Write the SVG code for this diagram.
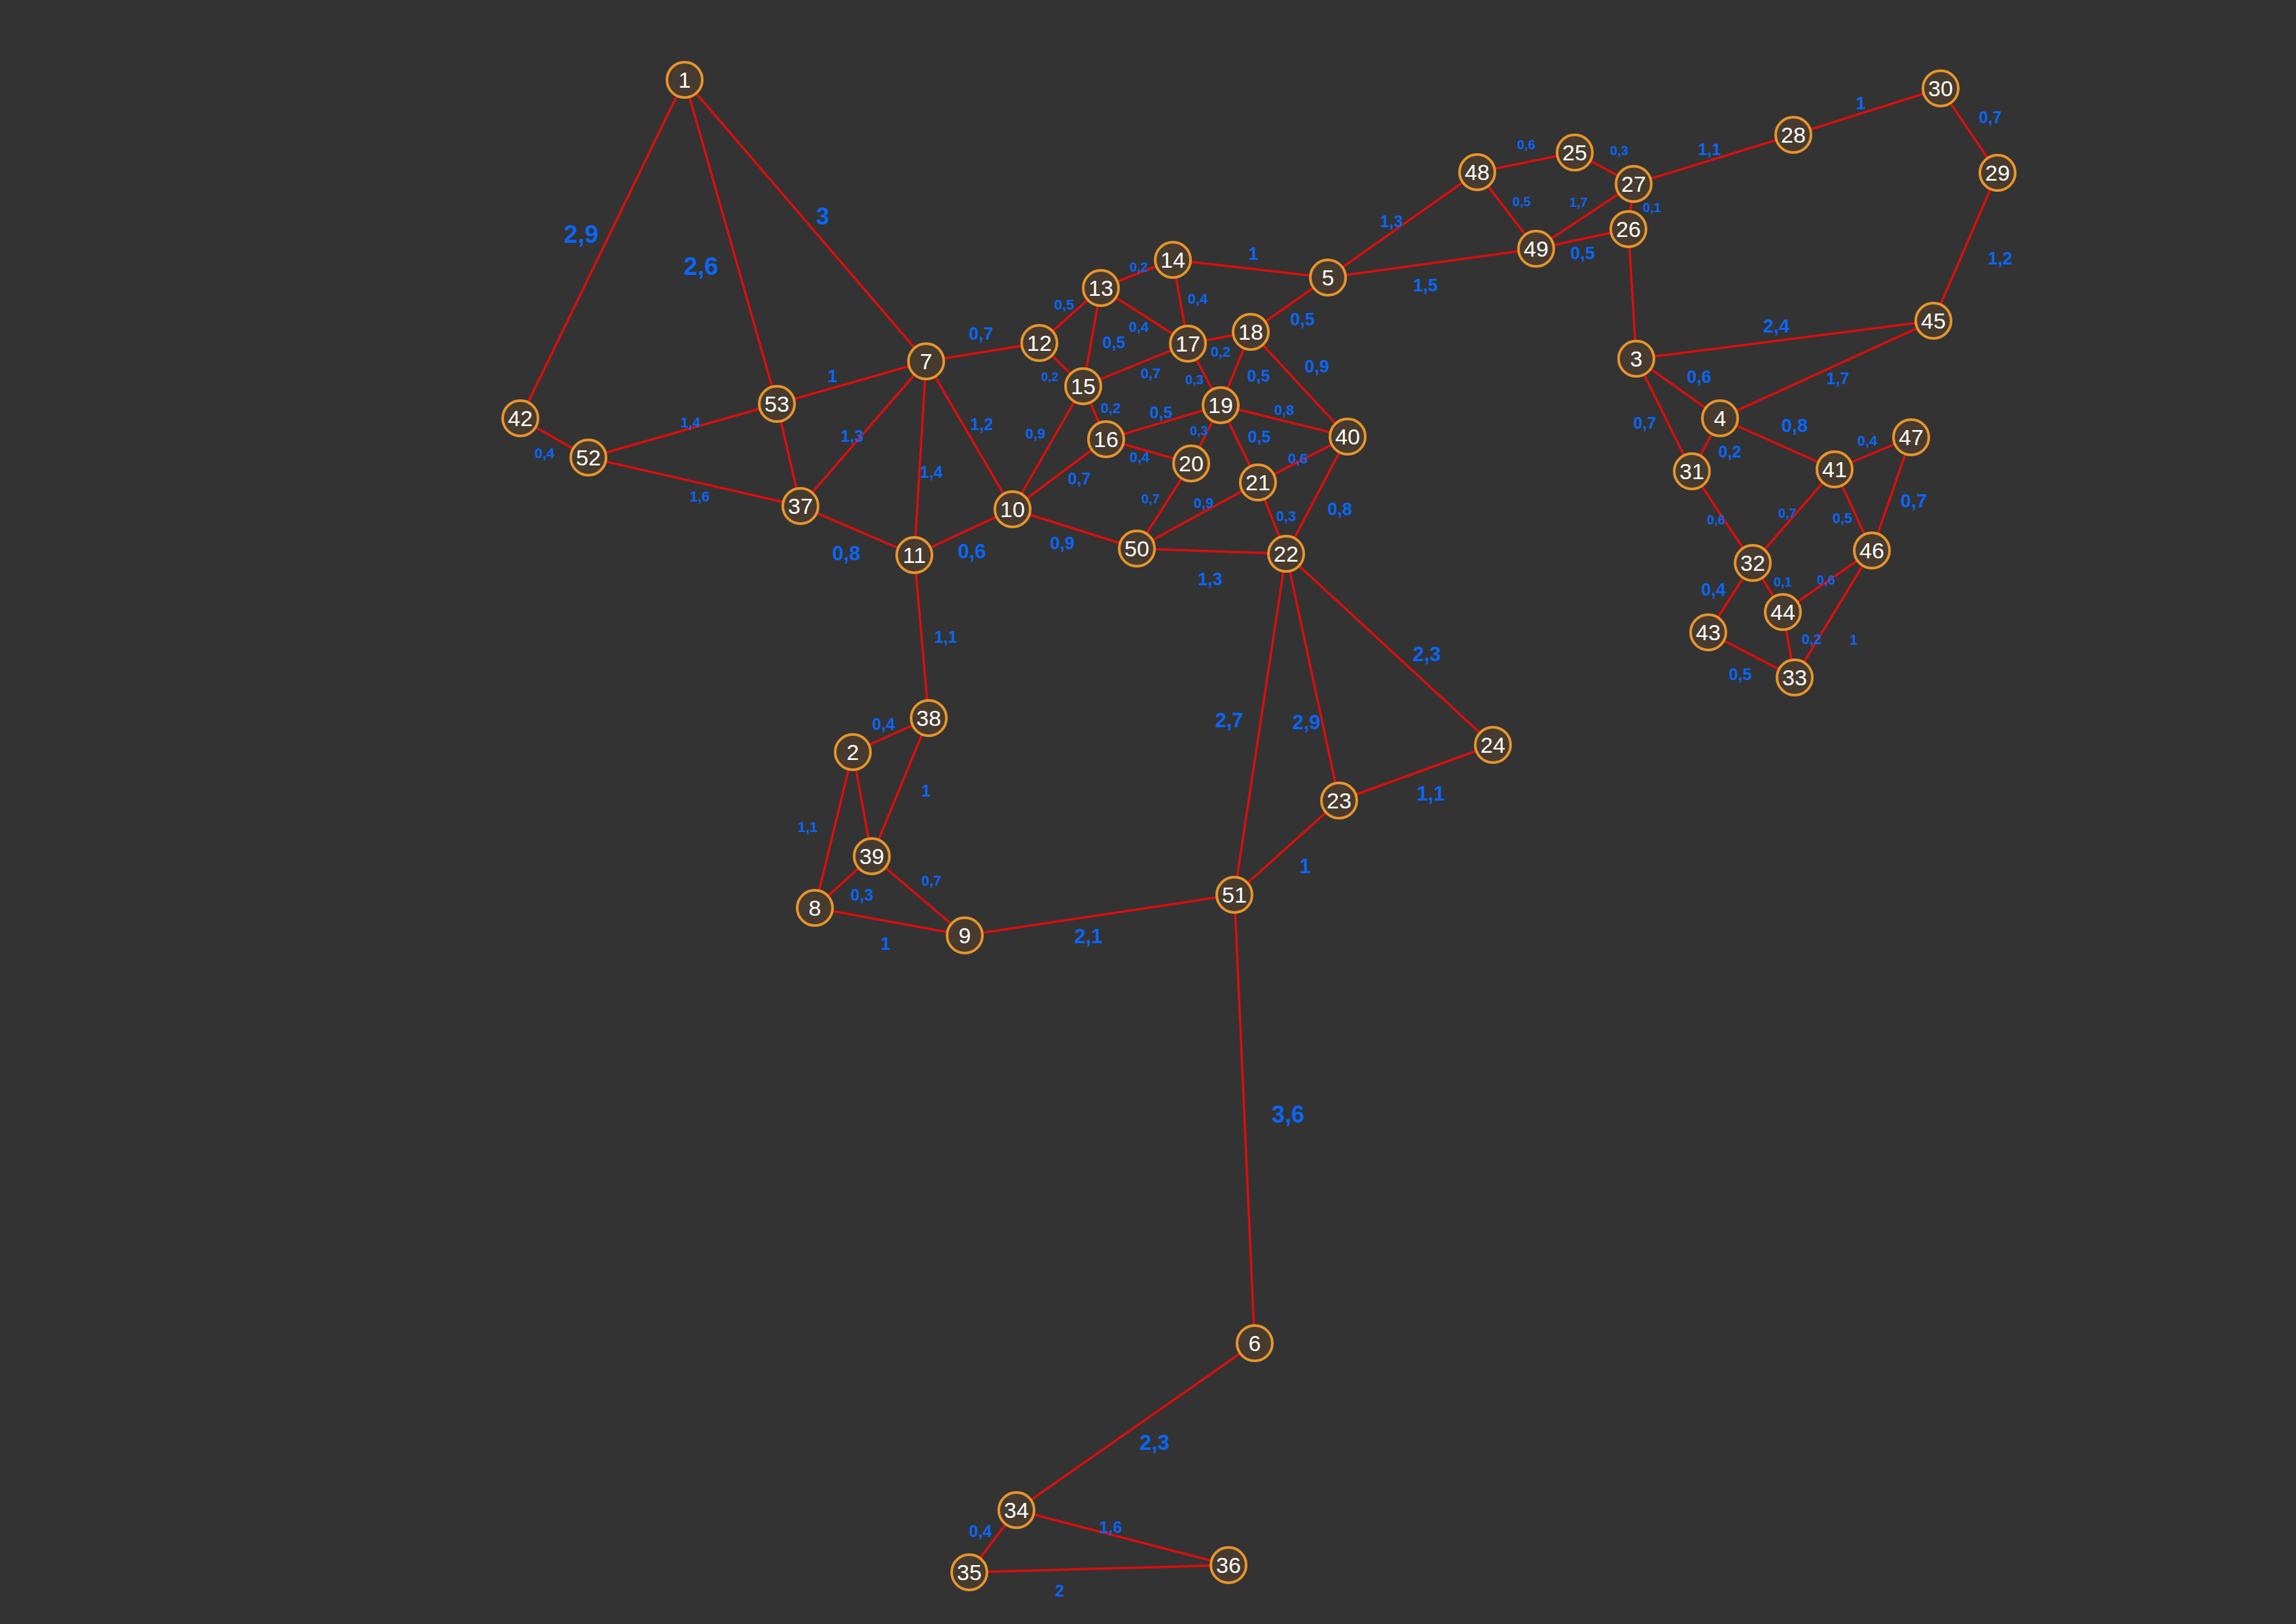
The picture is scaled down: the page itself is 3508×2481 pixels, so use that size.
<svg xmlns="http://www.w3.org/2000/svg" width="3508" height="2481" viewBox="0 0 3508 2481">
<style>
.e{stroke:#e00c0c;stroke-width:3.5;fill:none;stroke-linecap:round}
.n circle{fill:#463b2e;stroke:#e8952c;stroke-width:4}
.n text{fill:#ffffff;font-family:"Liberation Sans",Arial,sans-serif;font-size:34px;text-anchor:middle;dominant-baseline:central}
.l text{fill:#0a66f5;font-family:"Liberation Sans",Arial,sans-serif;font-weight:bold;text-anchor:middle;dominant-baseline:central}
</style>
<rect width="3508" height="2481" fill="#333333"/>
<g id="connectors">
<line class="e" x1="1046" y1="122" x2="795" y2="639"/>
<line class="e" x1="1046" y1="122" x2="1187" y2="617"/>
<line class="e" x1="1046" y1="122" x2="1415" y2="552"/>
<line class="e" x1="1187" y1="617" x2="1415" y2="552"/>
<line class="e" x1="795" y1="639" x2="899" y2="699"/>
<line class="e" x1="899" y1="699" x2="1187" y2="617"/>
<line class="e" x1="899" y1="699" x2="1223" y2="773"/>
<line class="e" x1="1187" y1="617" x2="1223" y2="773"/>
<line class="e" x1="1223" y1="773" x2="1415" y2="552"/>
<line class="e" x1="1415" y1="552" x2="1397" y2="848"/>
<line class="e" x1="1415" y1="552" x2="1547" y2="778"/>
<line class="e" x1="1223" y1="773" x2="1397" y2="848"/>
<line class="e" x1="1397" y1="848" x2="1547" y2="778"/>
<line class="e" x1="1397" y1="848" x2="1419" y2="1097"/>
<line class="e" x1="1415" y1="552" x2="1588" y2="524"/>
<line class="e" x1="1588" y1="524" x2="1682" y2="440"/>
<line class="e" x1="1682" y1="440" x2="1792" y2="397"/>
<line class="e" x1="1792" y1="397" x2="2029" y2="424"/>
<line class="e" x1="1792" y1="397" x2="1815" y2="525"/>
<line class="e" x1="1682" y1="440" x2="1815" y2="525"/>
<line class="e" x1="1682" y1="440" x2="1655" y2="590"/>
<line class="e" x1="1588" y1="524" x2="1655" y2="590"/>
<line class="e" x1="1655" y1="590" x2="1815" y2="525"/>
<line class="e" x1="1815" y1="525" x2="1911" y2="507"/>
<line class="e" x1="2029" y1="424" x2="1911" y2="507"/>
<line class="e" x1="1911" y1="507" x2="2059" y2="667"/>
<line class="e" x1="1911" y1="507" x2="1865" y2="619"/>
<line class="e" x1="1815" y1="525" x2="1865" y2="619"/>
<line class="e" x1="1655" y1="590" x2="1690" y2="671"/>
<line class="e" x1="1690" y1="671" x2="1865" y2="619"/>
<line class="e" x1="1865" y1="619" x2="2059" y2="667"/>
<line class="e" x1="1865" y1="619" x2="1820" y2="708"/>
<line class="e" x1="1865" y1="619" x2="1922" y2="737"/>
<line class="e" x1="1690" y1="671" x2="1820" y2="708"/>
<line class="e" x1="1655" y1="590" x2="1547" y2="778"/>
<line class="e" x1="1690" y1="671" x2="1547" y2="778"/>
<line class="e" x1="1820" y1="708" x2="1737" y2="838"/>
<line class="e" x1="1737" y1="838" x2="1922" y2="737"/>
<line class="e" x1="1922" y1="737" x2="2059" y2="667"/>
<line class="e" x1="1922" y1="737" x2="1965" y2="846"/>
<line class="e" x1="2059" y1="667" x2="1965" y2="846"/>
<line class="e" x1="1547" y1="778" x2="1737" y2="838"/>
<line class="e" x1="1737" y1="838" x2="1965" y2="846"/>
<line class="e" x1="1965" y1="846" x2="1886" y2="1367"/>
<line class="e" x1="1965" y1="846" x2="2046" y2="1223"/>
<line class="e" x1="1965" y1="846" x2="2281" y2="1138"/>
<line class="e" x1="2046" y1="1223" x2="2281" y2="1138"/>
<line class="e" x1="2046" y1="1223" x2="1886" y2="1367"/>
<line class="e" x1="1886" y1="1367" x2="1474" y2="1429"/>
<line class="e" x1="1419" y1="1097" x2="1303" y2="1149"/>
<line class="e" x1="1419" y1="1097" x2="1332" y2="1308"/>
<line class="e" x1="1303" y1="1149" x2="1245" y2="1387"/>
<line class="e" x1="1303" y1="1149" x2="1332" y2="1308"/>
<line class="e" x1="1332" y1="1308" x2="1245" y2="1387"/>
<line class="e" x1="1332" y1="1308" x2="1474" y2="1429"/>
<line class="e" x1="1245" y1="1387" x2="1474" y2="1429"/>
<line class="e" x1="1886" y1="1367" x2="1917" y2="2052"/>
<line class="e" x1="1917" y1="2052" x2="1553" y2="2307"/>
<line class="e" x1="1553" y1="2307" x2="1481" y2="2402"/>
<line class="e" x1="1553" y1="2307" x2="1877" y2="2391"/>
<line class="e" x1="1481" y1="2402" x2="1877" y2="2391"/>
<line class="e" x1="2257" y1="263" x2="2029" y2="424"/>
<line class="e" x1="2029" y1="424" x2="2347" y2="380"/>
<line class="e" x1="2257" y1="263" x2="2406" y2="233"/>
<line class="e" x1="2406" y1="233" x2="2496" y2="281"/>
<line class="e" x1="2496" y1="281" x2="2740" y2="206"/>
<line class="e" x1="2257" y1="263" x2="2347" y2="380"/>
<line class="e" x1="2347" y1="380" x2="2496" y2="281"/>
<line class="e" x1="2496" y1="281" x2="2488" y2="350"/>
<line class="e" x1="2347" y1="380" x2="2488" y2="350"/>
<line class="e" x1="2488" y1="350" x2="2500" y2="548"/>
<line class="e" x1="2740" y1="206" x2="2965" y2="135"/>
<line class="e" x1="2965" y1="135" x2="3052" y2="264"/>
<line class="e" x1="3052" y1="264" x2="2954" y2="490"/>
<line class="e" x1="2500" y1="548" x2="2954" y2="490"/>
<line class="e" x1="2500" y1="548" x2="2628" y2="639"/>
<line class="e" x1="2628" y1="639" x2="2954" y2="490"/>
<line class="e" x1="2500" y1="548" x2="2585" y2="720"/>
<line class="e" x1="2628" y1="639" x2="2803" y2="717"/>
<line class="e" x1="2628" y1="639" x2="2585" y2="720"/>
<line class="e" x1="2803" y1="717" x2="2920" y2="668"/>
<line class="e" x1="2920" y1="668" x2="2860" y2="841"/>
<line class="e" x1="2585" y1="720" x2="2678" y2="860"/>
<line class="e" x1="2803" y1="717" x2="2678" y2="860"/>
<line class="e" x1="2803" y1="717" x2="2860" y2="841"/>
<line class="e" x1="2678" y1="860" x2="2610" y2="966"/>
<line class="e" x1="2678" y1="860" x2="2724" y2="935"/>
<line class="e" x1="2724" y1="935" x2="2860" y2="841"/>
<line class="e" x1="2724" y1="935" x2="2742" y2="1035"/>
<line class="e" x1="2860" y1="841" x2="2742" y2="1035"/>
<line class="e" x1="2610" y1="966" x2="2742" y2="1035"/>
</g>
<g id="labels" class="l">
<text x="888" y="358" font-size="38">2,9</text>
<text x="1071" y="407" font-size="38">2,6</text>
<text x="1257" y="330" font-size="36">3</text>
<text x="1272" y="575" font-size="27">1</text>
<text x="832" y="692" font-size="22">0,4</text>
<text x="1055" y="645" font-size="22">1,4</text>
<text x="1069" y="758" font-size="22">1,6</text>
<text x="1302" y="666" font-size="25">1,3</text>
<text x="1423" y="721" font-size="25">1,4</text>
<text x="1500" y="648" font-size="25">1,2</text>
<text x="1293" y="845" font-size="31">0,8</text>
<text x="1485" y="842" font-size="31">0,6</text>
<text x="1445" y="973" font-size="25">1,1</text>
<text x="1499" y="510" font-size="27">0,7</text>
<text x="1626" y="465" font-size="22">0,5</text>
<text x="1740" y="408" font-size="20">0,2</text>
<text x="1915" y="388" font-size="27">1</text>
<text x="1830" y="456" font-size="22">0,4</text>
<text x="1740" y="499" font-size="22">0,4</text>
<text x="1702" y="523" font-size="25">0,5</text>
<text x="1604" y="575" font-size="19">0,2</text>
<text x="1758" y="570" font-size="22">0,7</text>
<text x="1865" y="537" font-size="22">0,2</text>
<text x="1990" y="488" font-size="27">0,5</text>
<text x="2012" y="560" font-size="27">0,9</text>
<text x="1923" y="574" font-size="25">0,5</text>
<text x="1825" y="580" font-size="20">0,3</text>
<text x="1697" y="623" font-size="22">0,2</text>
<text x="1774" y="630" font-size="25">0,5</text>
<text x="1962" y="626" font-size="22">0,8</text>
<text x="1832" y="658" font-size="20">0,3</text>
<text x="1924" y="667" font-size="25">0,5</text>
<text x="1741" y="698" font-size="22">0,4</text>
<text x="1582" y="662" font-size="22">0,9</text>
<text x="1649" y="731" font-size="25">0,7</text>
<text x="1758" y="762" font-size="20">0,7</text>
<text x="1839" y="768" font-size="22">0,9</text>
<text x="1983" y="700" font-size="22">0,6</text>
<text x="1965" y="788" font-size="22">0,3</text>
<text x="2047" y="778" font-size="27">0,8</text>
<text x="1623" y="830" font-size="27">0,9</text>
<text x="1849" y="885" font-size="27">1,3</text>
<text x="1878" y="1100" font-size="31">2,7</text>
<text x="1996" y="1103" font-size="31">2,9</text>
<text x="2180" y="999" font-size="31">2,3</text>
<text x="2186" y="1212" font-size="31">1,1</text>
<text x="1994" y="1323" font-size="31">1</text>
<text x="1663" y="1430" font-size="31">2,1</text>
<text x="1350" y="1106" font-size="25">0,4</text>
<text x="1415" y="1208" font-size="25">1</text>
<text x="1234" y="1263" font-size="22">1,1</text>
<text x="1317" y="1367" font-size="25">0,3</text>
<text x="1423" y="1345" font-size="22">0,7</text>
<text x="1353" y="1442" font-size="27">1</text>
<text x="1968" y="1702" font-size="36">3,6</text>
<text x="1764" y="2203" font-size="33">2,3</text>
<text x="1498" y="2339" font-size="25">0,4</text>
<text x="1697" y="2333" font-size="25">1,6</text>
<text x="1619" y="2430" font-size="25">2</text>
<text x="2126" y="338" font-size="25">1,3</text>
<text x="2332" y="221" font-size="20">0,6</text>
<text x="2474" y="230" font-size="20">0,3</text>
<text x="2612" y="228" font-size="25">1,1</text>
<text x="2325" y="308" font-size="20">0,5</text>
<text x="2412" y="309" font-size="20">1,7</text>
<text x="2524" y="317" font-size="20">0,1</text>
<text x="2418" y="387" font-size="27">0,5</text>
<text x="2178" y="436" font-size="27">1,5</text>
<text x="2843" y="158" font-size="27">1</text>
<text x="3041" y="179" font-size="25">0,7</text>
<text x="3056" y="395" font-size="27">1,2</text>
<text x="2714" y="498" font-size="29">2,4</text>
<text x="2596" y="576" font-size="27">0,6</text>
<text x="2808" y="578" font-size="25">1,7</text>
<text x="2513" y="646" font-size="25">0,7</text>
<text x="2742" y="650" font-size="29">0,8</text>
<text x="2643" y="690" font-size="25">0,2</text>
<text x="2853" y="673" font-size="22">0,4</text>
<text x="2924" y="765" font-size="29">0,7</text>
<text x="2622" y="794" font-size="20">0,6</text>
<text x="2731" y="784" font-size="20">0,7</text>
<text x="2815" y="791" font-size="22">0,5</text>
<text x="2618" y="901" font-size="27">0,4</text>
<text x="2724" y="889" font-size="20">0,1</text>
<text x="2790" y="886" font-size="20">0,6</text>
<text x="2768" y="976" font-size="22">0,2</text>
<text x="2832" y="977" font-size="22">1</text>
<text x="2659" y="1030" font-size="25">0,5</text>
</g>
<g class="n">
<g id="n1"><circle cx="1046" cy="122" r="27"/><text x="1046" y="122">1</text></g>
<g id="n2"><circle cx="1303" cy="1149" r="27"/><text x="1303" y="1149">2</text></g>
<g id="n3"><circle cx="2500" cy="548" r="27"/><text x="2500" y="548">3</text></g>
<g id="n4"><circle cx="2628" cy="639" r="27"/><text x="2628" y="639">4</text></g>
<g id="n5"><circle cx="2029" cy="424" r="27"/><text x="2029" y="424">5</text></g>
<g id="n6"><circle cx="1917" cy="2052" r="27"/><text x="1917" y="2052">6</text></g>
<g id="n7"><circle cx="1415" cy="552" r="27"/><text x="1415" y="552">7</text></g>
<g id="n8"><circle cx="1245" cy="1387" r="27"/><text x="1245" y="1387">8</text></g>
<g id="n9"><circle cx="1474" cy="1429" r="27"/><text x="1474" y="1429">9</text></g>
<g id="n10"><circle cx="1547" cy="778" r="27"/><text x="1547" y="778">10</text></g>
<g id="n11"><circle cx="1397" cy="848" r="27"/><text x="1397" y="848">11</text></g>
<g id="n12"><circle cx="1588" cy="524" r="27"/><text x="1588" y="524">12</text></g>
<g id="n13"><circle cx="1682" cy="440" r="27"/><text x="1682" y="440">13</text></g>
<g id="n14"><circle cx="1792" cy="397" r="27"/><text x="1792" y="397">14</text></g>
<g id="n15"><circle cx="1655" cy="590" r="27"/><text x="1655" y="590">15</text></g>
<g id="n16"><circle cx="1690" cy="671" r="27"/><text x="1690" y="671">16</text></g>
<g id="n17"><circle cx="1815" cy="525" r="27"/><text x="1815" y="525">17</text></g>
<g id="n18"><circle cx="1911" cy="507" r="27"/><text x="1911" y="507">18</text></g>
<g id="n19"><circle cx="1865" cy="619" r="27"/><text x="1865" y="619">19</text></g>
<g id="n20"><circle cx="1820" cy="708" r="27"/><text x="1820" y="708">20</text></g>
<g id="n21"><circle cx="1922" cy="737" r="27"/><text x="1922" y="737">21</text></g>
<g id="n22"><circle cx="1965" cy="846" r="27"/><text x="1965" y="846">22</text></g>
<g id="n23"><circle cx="2046" cy="1223" r="27"/><text x="2046" y="1223">23</text></g>
<g id="n24"><circle cx="2281" cy="1138" r="27"/><text x="2281" y="1138">24</text></g>
<g id="n25"><circle cx="2406" cy="233" r="27"/><text x="2406" y="233">25</text></g>
<g id="n26"><circle cx="2488" cy="350" r="27"/><text x="2488" y="350">26</text></g>
<g id="n27"><circle cx="2496" cy="281" r="27"/><text x="2496" y="281">27</text></g>
<g id="n28"><circle cx="2740" cy="206" r="27"/><text x="2740" y="206">28</text></g>
<g id="n29"><circle cx="3052" cy="264" r="27"/><text x="3052" y="264">29</text></g>
<g id="n30"><circle cx="2965" cy="135" r="27"/><text x="2965" y="135">30</text></g>
<g id="n31"><circle cx="2585" cy="720" r="27"/><text x="2585" y="720">31</text></g>
<g id="n32"><circle cx="2678" cy="860" r="27"/><text x="2678" y="860">32</text></g>
<g id="n33"><circle cx="2742" cy="1035" r="27"/><text x="2742" y="1035">33</text></g>
<g id="n34"><circle cx="1553" cy="2307" r="27"/><text x="1553" y="2307">34</text></g>
<g id="n35"><circle cx="1481" cy="2402" r="27"/><text x="1481" y="2402">35</text></g>
<g id="n36"><circle cx="1877" cy="2391" r="27"/><text x="1877" y="2391">36</text></g>
<g id="n37"><circle cx="1223" cy="773" r="27"/><text x="1223" y="773">37</text></g>
<g id="n38"><circle cx="1419" cy="1097" r="27"/><text x="1419" y="1097">38</text></g>
<g id="n39"><circle cx="1332" cy="1308" r="27"/><text x="1332" y="1308">39</text></g>
<g id="n40"><circle cx="2059" cy="667" r="27"/><text x="2059" y="667">40</text></g>
<g id="n41"><circle cx="2803" cy="717" r="27"/><text x="2803" y="717">41</text></g>
<g id="n42"><circle cx="795" cy="639" r="27"/><text x="795" y="639">42</text></g>
<g id="n43"><circle cx="2610" cy="966" r="27"/><text x="2610" y="966">43</text></g>
<g id="n44"><circle cx="2724" cy="935" r="27"/><text x="2724" y="935">44</text></g>
<g id="n45"><circle cx="2954" cy="490" r="27"/><text x="2954" y="490">45</text></g>
<g id="n46"><circle cx="2860" cy="841" r="27"/><text x="2860" y="841">46</text></g>
<g id="n47"><circle cx="2920" cy="668" r="27"/><text x="2920" y="668">47</text></g>
<g id="n48"><circle cx="2257" cy="263" r="27"/><text x="2257" y="263">48</text></g>
<g id="n49"><circle cx="2347" cy="380" r="27"/><text x="2347" y="380">49</text></g>
<g id="n50"><circle cx="1737" cy="838" r="27"/><text x="1737" y="838">50</text></g>
<g id="n51"><circle cx="1886" cy="1367" r="27"/><text x="1886" y="1367">51</text></g>
<g id="n52"><circle cx="899" cy="699" r="27"/><text x="899" y="699">52</text></g>
<g id="n53"><circle cx="1187" cy="617" r="27"/><text x="1187" y="617">53</text></g>
</g>
</svg>
